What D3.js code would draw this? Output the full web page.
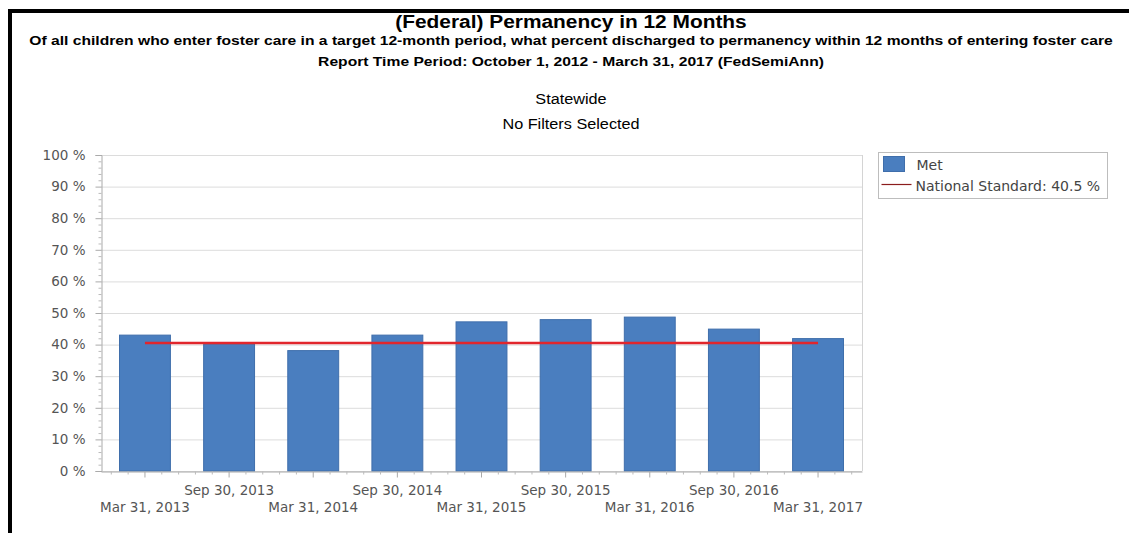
<!DOCTYPE html>
<html>
<head>
<meta charset="utf-8">
<script src="https://cdn.jsdelivr.net/npm/d3@7"></script>
<style>
  html, body { margin: 0; padding: 0; background: #fff; }
  svg { display: block; }
</style>
</head>
<body>
<svg id="chart" width="1129" height="533"></svg>
<script>
// Reporting periods (semi-annual) and the share discharged to permanency
const categories = [
  "Mar 31, 2013", "Sep 30, 2013", "Mar 31, 2014", "Sep 30, 2014", "Mar 31, 2015",
  "Sep 30, 2015", "Mar 31, 2016", "Sep 30, 2016", "Mar 31, 2017"
];
const metValues = [43.0, 40.1, 38.1, 43.0, 47.2, 47.9, 48.7, 44.9, 41.9];
const nationalStandard = 40.5;
const yTicks = [0, 10, 20, 30, 40, 50, 60, 70, 80, 90, 100];

const titleLines = [
  { text: "(Federal) Permanency in 12 Months", size: 18, weight: "bold", y: 28 },
  { text: "Of all children who enter foster care in a target 12-month period, what percent discharged to permanency within 12 months of entering foster care", size: 13.5, weight: "bold", y: 45.5 },
  { text: "Report Time Period: October 1, 2012 - March 31, 2017 (FedSemiAnn)", size: 13.5, weight: "bold", y: 66.5 },
  { text: "Statewide", size: 14, weight: "normal", y: 104 },
  { text: "No Filters Selected", size: 14, weight: "normal", y: 129 }
];

const svg = d3.select("#chart");
const W = 1129, H = 533;
const plot = { left: 101, right: 862, top: 155, bottom: 471 };
const axisFont = "'DejaVu Sans', Verdana, sans-serif";
const axisColor = "#555";

// Page frame: heavy rule along the top and left edges
svg.append("rect").attr("x", 8).attr("y", 9).attr("width", W - 8).attr("height", 4).attr("fill", "#000");
svg.append("rect").attr("x", 8).attr("y", 9).attr("width", 4).attr("height", H - 9).attr("fill", "#000");

// Header text (set slightly wide)
svg.append("g").attr("transform", "translate(571,0) scale(1.16,1)")
  .selectAll("text").data(titleLines).join("text")
  .attr("x", 0).attr("y", d => d.y)
  .attr("text-anchor", "middle")
  .attr("font-family", "'Liberation Sans', Arial, sans-serif")
  .attr("font-size", d => d.size).attr("font-weight", d => d.weight)
  .attr("fill", "#000")
  .text(d => d.text);

// Scales
const x = d3.scaleBand().domain(categories)
  .range([plot.left, plot.right])
  .paddingInner(0.395).paddingOuter(0.22);
const y = d3.scaleLinear().domain([0, 100]).range([plot.bottom, plot.top]);

// Horizontal gridlines
svg.append("g").selectAll("line").data(yTicks).join("line")
  .attr("x1", plot.left).attr("x2", plot.right)
  .attr("y1", d => y(d) + 0.5).attr("y2", d => y(d) + 0.5)
  .attr("stroke", "#dcdcdc").attr("stroke-width", 1);

// Right edge of the plot area
svg.append("line")
  .attr("x1", plot.right + 0.5).attr("x2", plot.right + 0.5)
  .attr("y1", plot.top).attr("y2", plot.bottom)
  .attr("stroke", "#d4d4d4");

// Bars
svg.append("g").selectAll("rect").data(metValues).join("rect")
  .attr("x", (d, i) => x(categories[i]))
  .attr("width", x.bandwidth())
  .attr("y", d => y(d))
  .attr("height", d => y(0) - y(d))
  .attr("fill", "#4a7ebf")
  .attr("stroke", "#3f6eab").attr("stroke-width", 1);

// Y axis with minor ticks every 2 %
const yAxis = d3.axisLeft(y).tickValues(yTicks).tickSize(6).tickPadding(10)
  .tickFormat(d => d + " %");
const gy = svg.append("g").attr("transform", `translate(${plot.left + 0.5},0)`).call(yAxis);
gy.select(".domain").attr("stroke", "#aaa");
gy.selectAll(".tick line").attr("stroke", "#aaa");
gy.selectAll(".tick text").attr("font-family", axisFont).attr("font-size", 13.5).attr("fill", axisColor);
const minorY = d3.range(0, 101, 2).filter(v => v % 10 !== 0);
gy.append("g").selectAll("line").data(minorY).join("line")
  .attr("x1", -3).attr("x2", 0)
  .attr("y1", d => y(d) + 0.5).attr("y2", d => y(d) + 0.5)
  .attr("stroke", "#bbb");

// X axis: staggered labels at each bar centre
const xAxis = d3.axisBottom(x).tickSize(6).tickPadding(3).tickSizeOuter(0);
const gx = svg.append("g").attr("transform", `translate(0,${plot.bottom + 0.5})`).call(xAxis);
gx.select(".domain").attr("stroke", "#aaa");
gx.selectAll(".tick line").attr("stroke", "#aaa");
gx.selectAll(".tick text")
  .attr("font-family", axisFont).attr("font-size", 13.5).attr("fill", axisColor)
  .attr("dy", null)
  .attr("y", (d, i) => i % 2 === 0 ? 40 : 23);
// Minor ticks between the category ticks
const minorX = [];
categories.forEach(c => {
  const cx = x(c) + x.bandwidth() / 2;
  [-2, -1, 1, 2].forEach(j => minorX.push(cx + j * x.step() / 5));
});
gx.append("g").selectAll("line").data(minorX.filter(v => v > plot.left && v < plot.right)).join("line")
  .attr("x1", d => d).attr("x2", d => d)
  .attr("y1", 0).attr("y2", 3)
  .attr("stroke", "#bbb");

// National standard line across the bar centres
const stdLine = d3.line()
  .x(c => x(c) + x.bandwidth() / 2)
  .y(() => y(nationalStandard));
svg.append("path").datum(categories)
  .attr("d", stdLine)
  .attr("fill", "none")
  .attr("stroke", "#e1262c").attr("stroke-width", 2.5);

// Legend
const lg = svg.append("g").attr("transform", "translate(878.5,152.5)");
lg.append("rect").attr("width", 229).attr("height", 46)
  .attr("fill", "#fff").attr("stroke", "#bdbdbd");
lg.append("rect").attr("x", 5).attr("y", 4).attr("width", 21).attr("height", 15)
  .attr("fill", "#4a7ebf").attr("stroke", "#3f6eab");
lg.append("text").attr("x", 38).attr("y", 17)
  .attr("font-family", axisFont).attr("font-size", 14).attr("fill", "#444")
  .text("Met");
lg.append("line").attr("x1", 3).attr("x2", 33).attr("y1", 32).attr("y2", 32)
  .attr("stroke", "#8b1c1c").attr("stroke-width", 1.2);
lg.append("text").attr("x", 37).attr("y", 38)
  .attr("font-family", axisFont).attr("font-size", 14).attr("fill", "#444")
  .text("National Standard: " + nationalStandard + " %");
</script>
</body>
</html>
